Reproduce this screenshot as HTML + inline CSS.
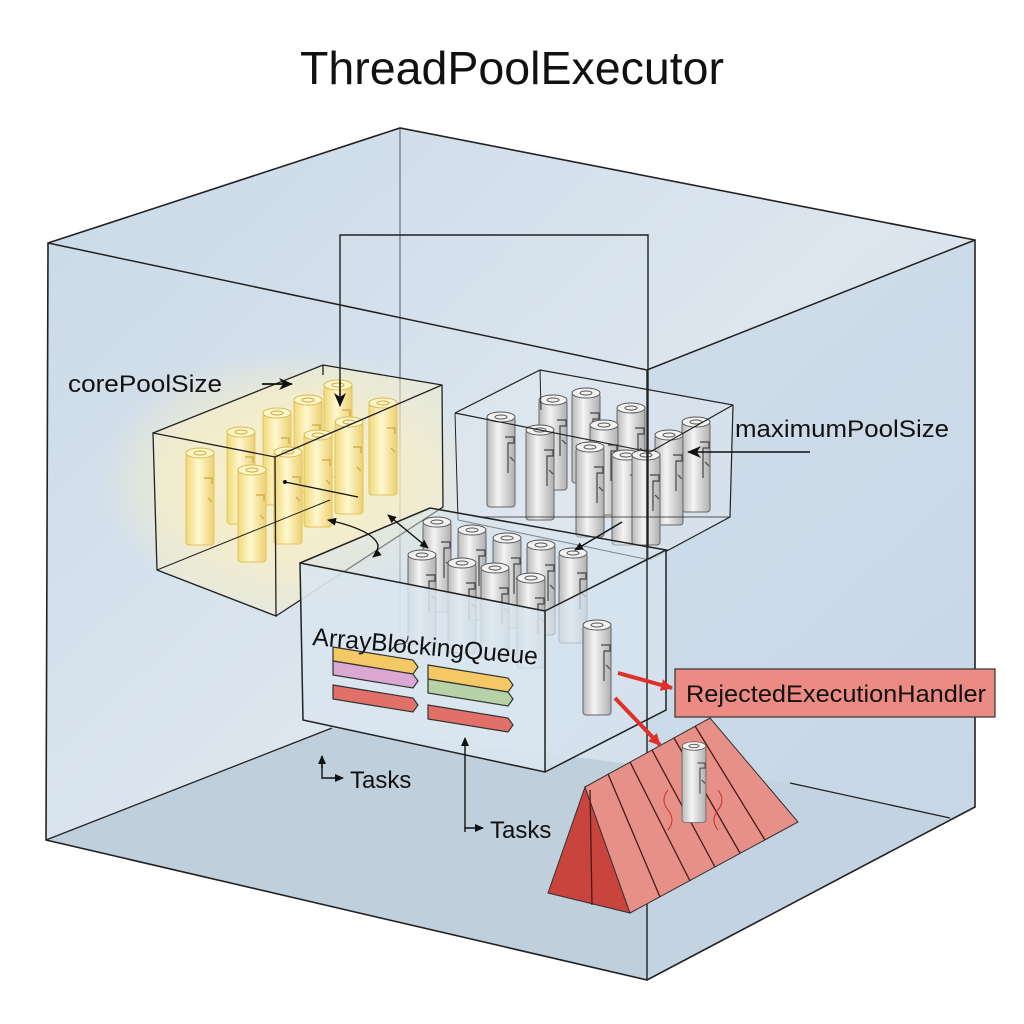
<!DOCTYPE html>
<html><head><meta charset="utf-8"><style>
html,body{margin:0;padding:0;background:#fff;}
svg{display:block;}
text{font-family:"Liberation Sans",sans-serif;fill:#111;}
</style></head><body>
<svg width="1024" height="1024" viewBox="0 0 1024 1024" xmlns="http://www.w3.org/2000/svg">
<defs>
<linearGradient id="wall" x1="0" y1="0" x2="1" y2="1">
<stop offset="0" stop-color="#c9d9e7"/><stop offset="0.5" stop-color="#dce6ef"/><stop offset="1" stop-color="#c6d6e4"/>
</linearGradient>
<linearGradient id="cylG" x1="0" x2="1">
<stop offset="0" stop-color="#b9b9b9"/><stop offset="0.4" stop-color="#f4f4f4"/><stop offset="1" stop-color="#b0b0b0"/>
</linearGradient>
<linearGradient id="cylY" x1="0" x2="1">
<stop offset="0" stop-color="#f0d878"/><stop offset="0.45" stop-color="#fff8d0"/><stop offset="1" stop-color="#ecd070"/>
</linearGradient>
<radialGradient id="glow" cx="0.5" cy="0.5" r="0.5">
<stop offset="0" stop-color="#fff6c8" stop-opacity="0.95"/><stop offset="0.6" stop-color="#fbf0c0" stop-opacity="0.6"/><stop offset="1" stop-color="#fbf0c0" stop-opacity="0"/>
</radialGradient>
<g id="cg">
<rect x="-14" y="0" width="28" height="90" rx="3" fill="url(#cylG)" stroke="#666" stroke-width="1"/>
<ellipse cx="0" cy="0" rx="14" ry="5" fill="#f2f2f2" stroke="#555" stroke-width="1"/>
<ellipse cx="0" cy="0" rx="6" ry="2" fill="none" stroke="#555" stroke-width="1"/>
<path d="M4 20h9v6h-6v30 M9 40l4 4" fill="none" stroke="#444" stroke-width="1.2"/>
</g>
<g id="cy">
<rect x="-14" y="0" width="28" height="92" rx="3" fill="url(#cylY)" stroke="#e2c460" stroke-width="1"/>
<ellipse cx="0" cy="0" rx="14" ry="5" fill="#fff6c8" stroke="#d8b850" stroke-width="1"/>
<ellipse cx="0" cy="0" rx="6" ry="2" fill="none" stroke="#c8a840" stroke-width="1"/>
<path d="M4 25h8v6 M8 45l4 4" fill="none" stroke="#c9a845" stroke-width="1.2"/>
</g>
<marker id="ah" markerWidth="16" markerHeight="16" refX="13" refY="7" orient="auto" markerUnits="userSpaceOnUse">
<path d="M0,1 L14,7 L0,13 L4,7 Z" fill="#111"/></marker>
<marker id="ahs" markerWidth="10" markerHeight="10" refX="8" refY="5" orient="auto-start-reverse" markerUnits="userSpaceOnUse">
<path d="M0,1 L9,5 L0,9 Z" fill="#111"/></marker>
<marker id="ahr" markerWidth="14" markerHeight="14" refX="11" refY="7" orient="auto" markerUnits="userSpaceOnUse">
<path d="M0,1 L12,7 L0,13 Z" fill="#e03028"/></marker>
</defs>

<text x="512" y="84" text-anchor="middle" font-size="46" textLength="424" lengthAdjust="spacingAndGlyphs">ThreadPoolExecutor</text>

<polygon points="48,243 400,128 975,240 975,807 647,980 46,840" fill="url(#wall)"/>
<polygon points="46,840 332,728 790,783 950,818 975,807 647,980" fill="#c0cfdc"/>
<polygon points="647,370 975,240 975,807 647,980" fill="#c4d6e6" opacity="0.6"/>
<line x1="400" y1="128" x2="400" y2="660" stroke="#556" stroke-width="1"/>
<polyline points="46,840 332,728" fill="none" stroke="#222" stroke-width="1.3"/>
<polyline points="790,783 950,818" fill="none" stroke="#222" stroke-width="1.3"/>

<ellipse cx="290" cy="480" rx="190" ry="130" fill="url(#glow)"/>

<polygon points="153,433 323,365 442,385 443,507 276,616 157,570" fill="#f8efc8" opacity="0.45"/>
<use href="#cy" x="308" y="400"/>
<use href="#cy" x="338" y="385"/>
<use href="#cy" x="383" y="403"/>
<use href="#cy" x="277" y="413"/>
<use href="#cy" x="241" y="432"/>
<use href="#cy" x="349" y="422"/>
<use href="#cy" x="318" y="435"/>
<use href="#cy" x="200" y="453"/>
<use href="#cy" x="288" y="452"/>
<use href="#cy" x="252" y="470"/>
<g fill="none" stroke="#222" stroke-width="1.3">
<polyline points="153,433 323,365 442,385 443,507 276,616"/>
<polygon points="153,433 275,457 276,616 157,570"/>
<line x1="275" y1="457" x2="442" y2="385"/>
<line x1="157" y1="570" x2="330" y2="500" stroke-width="1"/>
<line x1="323" y1="365" x2="323" y2="375"/>
</g>

<polygon points="455,413 540,370 733,405 730,517 650,560 458,520" fill="#dfe7ee" opacity="0.5"/>
<use href="#cg" x="553" y="400"/>
<use href="#cg" x="586" y="393"/>
<use href="#cg" x="631" y="408"/>
<use href="#cg" x="501" y="417"/>
<use href="#cg" x="696" y="422"/>
<use href="#cg" x="540" y="430"/>
<use href="#cg" x="604" y="425"/>
<use href="#cg" x="669" y="435"/>
<use href="#cg" x="590" y="447"/>
<use href="#cg" x="626" y="455"/>
<use href="#cg" x="646" y="455"/>
<g fill="none" stroke="#222" stroke-width="1.2">
<polyline points="455,413 540,370 733,405 730,517 650,560"/>
<line x1="455" y1="413" x2="650" y2="452"/>
<line x1="650" y1="452" x2="733" y2="405"/>
<line x1="455" y1="413" x2="458" y2="520" stroke-width="1"/>
<line x1="458" y1="520" x2="650" y2="560" stroke-width="1"/>
<line x1="540" y1="370" x2="541" y2="410" stroke-width="1"/>
<line x1="477" y1="517" x2="730" y2="517" stroke-width="0.8"/>
</g>

<g fill="none" stroke="#222" stroke-width="1.4">
<polyline points="340,400 340,235 648,235 648,560"/>
<line x1="340" y1="380" x2="340" y2="406" marker-end="url(#ah)"/>
</g>

<polygon points="300,563 430,508 666,550 666,710 545,772 303,720" fill="#d6e3ee" opacity="0.5"/>
<use href="#cg" x="437" y="522"/>
<use href="#cg" x="472" y="530"/>
<use href="#cg" x="507" y="538"/>
<use href="#cg" x="541" y="545"/>
<use href="#cg" x="573" y="553"/>
<use href="#cg" x="422" y="555"/>
<use href="#cg" x="462" y="563"/>
<use href="#cg" x="495" y="568"/>
<use href="#cg" x="531" y="578"/>
<polygon points="300,563 545,611 545,772 303,720" fill="#d9e5ef" opacity="0.85"/>
<polygon points="545,611 666,550 666,710 545,772" fill="#d4e2ee" opacity="0.7"/>
<use href="#cg" x="597" y="625"/>
<g fill="none" stroke="#222" stroke-width="1.5">
<polygon points="300,563 545,611 545,772 303,720"/>
<polyline points="300,563 430,508 666,550 545,611"/>
<polyline points="666,550 666,710 545,772"/>
</g>
<line x1="647" y1="370" x2="647" y2="980" stroke="#222" stroke-width="1.4"/>
<polyline points="48,243 647,370 975,240" fill="none" stroke="#222" stroke-width="1.5"/>
<polygon points="48,243 400,128 975,240 975,807 647,980 46,840" fill="none" stroke="#222" stroke-width="1.6"/>

<g stroke="#333" stroke-width="1.2">
<polygon points="333,647 413,660 418,667 413,674 333,661" fill="#f3c865"/>
<polygon points="333,661 413,674 418,681 413,688 333,675" fill="#dba8d3"/>
<polygon points="333,685 413,698 418,705 413,712 333,699" fill="#e07068"/>
<polygon points="428,665 508,678 513,685 508,692 428,679" fill="#f3c865"/>
<polygon points="428,679 508,692 513,699 508,706 428,693" fill="#b8d2a8"/>
<polygon points="428,705 508,718 513,725 508,732 428,719" fill="#e07068"/>
</g>
<path d="M390,652 q5,-8 10,-8 q8,0 8,-8" fill="none" stroke="#222" stroke-width="1"/>

<text x="312" y="645" font-size="25" transform="rotate(5 312 645)" textLength="226" lengthAdjust="spacingAndGlyphs">ArrayBlockingQueue</text>

<g fill="none" stroke="#111" stroke-width="1.4">
<line x1="358" y1="497" x2="285" y2="482"/>
<path d="M328,520 q45,10 50,25 q0,8 -5,12" marker-start="url(#ahs)" marker-end="url(#ahs)"/>
<line x1="388" y1="515" x2="428" y2="548" marker-start="url(#ahs)" marker-end="url(#ahs)"/>
<line x1="622" y1="522" x2="575" y2="550" marker-end="url(#ahs)"/>
<line x1="262" y1="384" x2="292" y2="384" stroke-width="1.8" marker-end="url(#ah)"/>
<line x1="810" y1="452" x2="688" y2="452" stroke-width="1.6" marker-end="url(#ah)"/>
<polyline points="322,758 322,778 343,778" marker-end="url(#ahs)"/>
<line x1="322" y1="768" x2="322" y2="756" marker-end="url(#ahs)"/>
<polyline points="465,832 465,828 483,828" marker-end="url(#ahs)"/>
<line x1="465" y1="828" x2="465" y2="738" marker-end="url(#ahs)"/>
</g>
<circle cx="285" cy="482" r="2" fill="#111"/>

<text x="68" y="392" font-size="24" textLength="154" lengthAdjust="spacingAndGlyphs">corePoolSize</text>
<text x="735" y="437" font-size="24" textLength="214" lengthAdjust="spacingAndGlyphs">maximumPoolSize</text>
<text x="350" y="788" font-size="24">Tasks</text>
<text x="490" y="838" font-size="24">Tasks</text>

<polygon points="585,787 548,893 630,913" fill="#c9443c" stroke="#333" stroke-width="1"/>
<polygon points="585,787 710,718 798,822 630,913" fill="#e69088" stroke="#333" stroke-width="1"/>
<g stroke="#4a1a18" stroke-width="1.3">
<line x1="608" y1="774" x2="660" y2="897"/>
<line x1="630" y1="762" x2="690" y2="881"/>
<line x1="652" y1="750" x2="715" y2="867"/>
<line x1="674" y1="738" x2="740" y2="853"/>
<line x1="695" y1="726" x2="765" y2="840"/>
<line x1="590" y1="790" x2="592" y2="905"/>
</g>
<g transform="translate(694,746) scale(0.85)"><use href="#cg"/></g>
<path d="M668,790 q-8,10 0,20 q8,10 0,20 M718,790 q8,10 0,20 q-8,10 0,20" fill="none" stroke="#c83028" stroke-width="1"/>

<rect x="675" y="669" width="320" height="48" fill="#ec8a84" stroke="#333" stroke-width="1.2"/>
<text x="686" y="702" font-size="24" textLength="300" lengthAdjust="spacingAndGlyphs">RejectedExecutionHandler</text>
<g stroke="#e03028" stroke-width="4" fill="none">
<line x1="618" y1="673" x2="672" y2="688" marker-end="url(#ahr)"/>
<line x1="615" y1="698" x2="660" y2="745" marker-end="url(#ahr)"/>
</g>
</svg>
</body></html>
